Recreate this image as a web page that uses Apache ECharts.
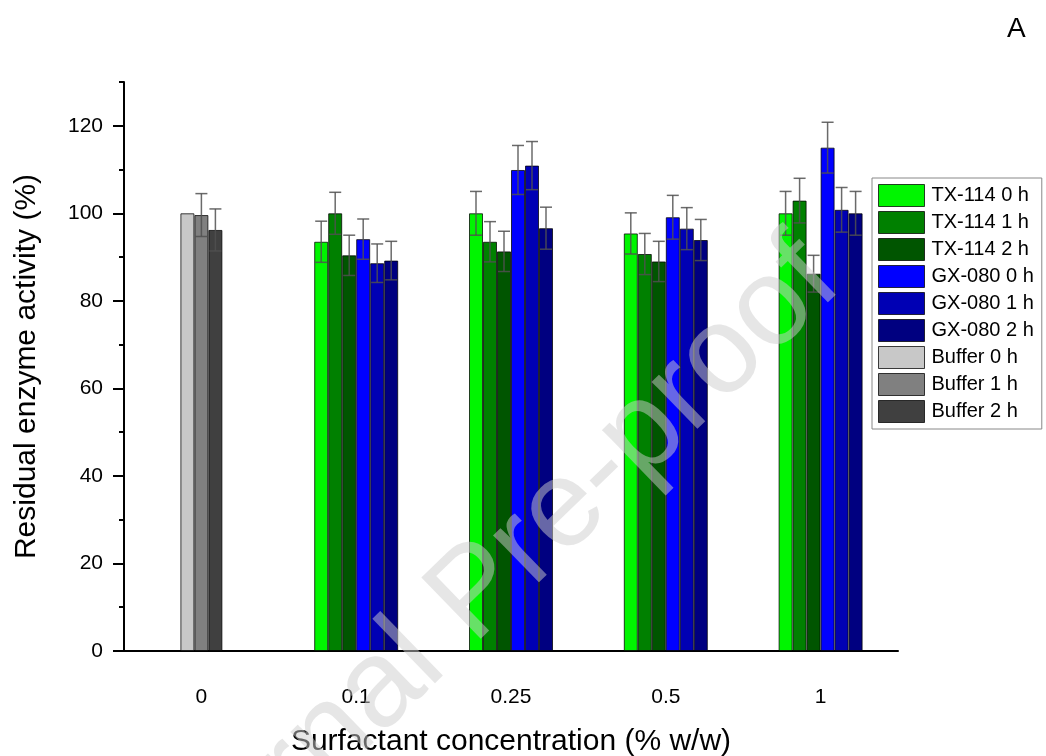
<!DOCTYPE html>
<html>
<head>
<meta charset="utf-8">
<script src="https://cdn.jsdelivr.net/npm/echarts@6/dist/echarts.min.js"></script>
<style>
  html, body { margin: 0; padding: 0; background: #fff; }
  #chart { width: 1046px; height: 756px; }
</style>
</head>
<body>
<div id="chart"></div>
<script>
// Surfactant concentrations (% w/w)
const categories = ['0', '0.1', '0.25', '0.5', '1'];

// Residual activity (%) and standard deviations per surfactant and incubation time
const tx114_0h = [null, 93.5, 100.0, 95.4, 100.0];
const tx114_0h_sd = [null, 4.7, 5.0, 4.7, 5.0];
const tx114_1h = [null, 100.0, 93.5, 90.7, 102.9];
const tx114_1h_sd = [null, 4.8, 4.6, 4.7, 5.1];
const tx114_2h = [null, 90.4, 91.3, 89.0, 86.2];
const tx114_2h_sd = [null, 4.6, 4.6, 4.6, 4.2];
const gx080_0h = [null, 94.1, 109.9, 99.1, 115.0];
const gx080_0h_sd = [null, 4.6, 5.6, 5.0, 5.8];
const gx080_1h = [null, 88.6, 110.9, 96.5, 100.8];
const gx080_1h_sd = [null, 4.4, 5.5, 4.8, 5.1];
const gx080_2h = [null, 89.2, 96.6, 93.9, 100.0];
const gx080_2h_sd = [null, 4.4, 4.8, 4.7, 5.0];
const buffer_0h = [100.0, null, null, null, null];
const buffer_0h_sd = [0, null, null, null, null];
const buffer_1h = [99.6, null, null, null, null];
const buffer_1h_sd = [4.9, null, null, null, null];
const buffer_2h = [96.2, null, null, null, null];
const buffer_2h_sd = [4.8, null, null, null, null];

// Y axis labels
const yTickLabels = [0, 20, 40, 60, 80, 100, 120];

const BAR_W = 14;

// group: 0 = surfactant bars (6 per category), 1 = buffer bars (3 per category)
const seriesDefs = [
  { name: 'TX-114 0 h', values: tx114_0h, sd: tx114_0h_sd, color: '#00f500', group: 0 },
  { name: 'TX-114 1 h', values: tx114_1h, sd: tx114_1h_sd, color: '#008000', group: 0 },
  { name: 'TX-114 2 h', values: tx114_2h, sd: tx114_2h_sd, color: '#005500', group: 0 },
  { name: 'GX-080 0 h', values: gx080_0h, sd: gx080_0h_sd, color: '#0000ff', group: 0 },
  { name: 'GX-080 1 h', values: gx080_1h, sd: gx080_1h_sd, color: '#0000b4', group: 0 },
  { name: 'GX-080 2 h', values: gx080_2h, sd: gx080_2h_sd, color: '#000080', group: 0 },
  { name: 'Buffer 0 h', values: buffer_0h, sd: buffer_0h_sd, color: '#c8c8c8', group: 1 },
  { name: 'Buffer 1 h', values: buffer_1h, sd: buffer_1h_sd, color: '#808080', group: 1 },
  { name: 'Buffer 2 h', values: buffer_2h, sd: buffer_2h_sd, color: '#404040', group: 1 }
];

const groupSize = [6, 3];
const slotIndex = {};
const counters = [0, 0];
seriesDefs.forEach(s => { slotIndex[s.name] = counters[s.group]++; });

const barSeries = seriesDefs.map(s => ({
  name: s.name,
  type: 'bar',
  xAxisIndex: s.group,
  data: s.values,
  barWidth: BAR_W,
  barGap: '0%',
  itemStyle: { color: s.color, borderColor: 'rgba(0,0,0,0.75)', borderWidth: 1 },
  z: 2
}));

const errorSeries = seriesDefs.map(s => {
  const n = groupSize[s.group];
  const slot = slotIndex[s.name];
  const data = [];
  s.values.forEach((v, i) => {
    if (v != null && s.sd[i]) data.push([i, v, s.sd[i]]);
  });
  return {
    type: 'custom',
    name: s.name + ' sd',
    xAxisIndex: s.group,
    data: data,
    z: 5,
    silent: true,
    renderItem: function (params, api) {
      const idx = api.value(0), v = api.value(1), e = api.value(2);
      const base = api.coord([idx, v]);
      const cx = base[0] + (slot - (n - 1) / 2) * BAR_W;
      const top = api.coord([idx, v + e])[1];
      const bot = api.coord([idx, v - e])[1];
      const cap = 6;
      const style = { stroke: 'rgba(80,80,80,0.85)', lineWidth: 1.5 };
      return {
        type: 'group',
        children: [
          { type: 'line', shape: { x1: cx, y1: top, x2: cx, y2: bot }, style: style },
          { type: 'line', shape: { x1: cx - cap, y1: top, x2: cx + cap, y2: top }, style: style },
          { type: 'line', shape: { x1: cx - cap, y1: bot, x2: cx + cap, y2: bot }, style: style }
        ]
      };
    }
  };
});

const FONT = 'Liberation Sans, Arial, sans-serif';

const chart = echarts.init(document.getElementById('chart'), null, { renderer: 'canvas' });
chart.setOption({
  animation: false,
  backgroundColor: '#fff',
  grid: { left: 124, right: 148, top: 82, bottom: 105, containLabel: false, outerBoundsMode: 'none' },
  legend: {
    data: seriesDefs.map(s => s.name),
    orient: 'vertical',
    left: 872,
    top: 178,
    padding: [6, 8, 6, 6],
    itemWidth: 46,
    itemHeight: 22,
    itemGap: 4,
    icon: 'rect',
    borderColor: '#888',
    borderWidth: 1,
    backgroundColor: '#fff',
    textStyle: { fontFamily: FONT, fontSize: 20, color: '#000', padding: [0, 0, 0, 2] },
    itemStyle: { borderColor: 'rgba(0,0,0,0.75)', borderWidth: 1 }
  },
  xAxis: [
    {
      type: 'category',
      data: categories,
      boundaryGap: true,
      name: 'Surfactant concentration (% w/w)',
      nameLocation: 'middle',
      nameGap: 76,
      nameTextStyle: { fontFamily: FONT, fontSize: 30, color: '#000' },
      axisLine: { lineStyle: { color: '#000', width: 2 } },
      axisTick: { alignWithLabel: true, length: 12, lineStyle: { color: '#000', width: 2 } },
      axisLabel: { fontFamily: FONT, fontSize: 21, color: '#000', margin: 36 },
      splitLine: { show: false }
    },
    {
      type: 'category',
      data: categories,
      boundaryGap: true,
      show: false
    }
  ],
  yAxis: [
    {
      type: 'value',
      min: 0,
      max: 130,
      interval: 10,
      name: 'Residual enzyme activity (%)',
      nameLocation: 'middle',
      nameGap: 82,
      nameTextStyle: { fontFamily: FONT, fontSize: 30, color: '#000' },
      axisLine: { show: true, lineStyle: { color: '#000', width: 2 } },
      axisTick: { show: true, length: 5, lineStyle: { color: '#000', width: 2 } },
      axisLabel: {
        fontFamily: FONT, fontSize: 21, color: '#000', margin: 21,
        formatter: v => (yTickLabels.indexOf(v) >= 0 ? String(v) : '')
      },
      splitLine: { show: false }
    },
    {
      type: 'value',
      min: 0,
      max: 130,
      interval: 20,
      position: 'left',
      axisLine: { show: false },
      axisTick: { show: true, length: 11, customValues: yTickLabels, lineStyle: { color: '#000', width: 2 } },
      axisLabel: { show: false },
      splitLine: { show: false }
    }
  ],
  series: barSeries.concat(errorSeries),
  graphic: [
    {
      type: 'text',
      left: 1007,
      top: 15,
      style: { text: 'A', fontFamily: FONT, fontSize: 28, fill: '#000' }
    },
    {
      type: 'text',
      x: 864,
      y: 306,
      rotation: Math.PI * 0.245,
      z: 100,
      silent: true,
      style: {
        text: 'Journal Pre-proof',
        fontFamily: FONT,
        fontSize: 124,
        fill: 'rgba(205,205,205,0.5)',
        align: 'right',
        verticalAlign: 'bottom'
      }
    }
  ]
});
</script>
</body>
</html>
